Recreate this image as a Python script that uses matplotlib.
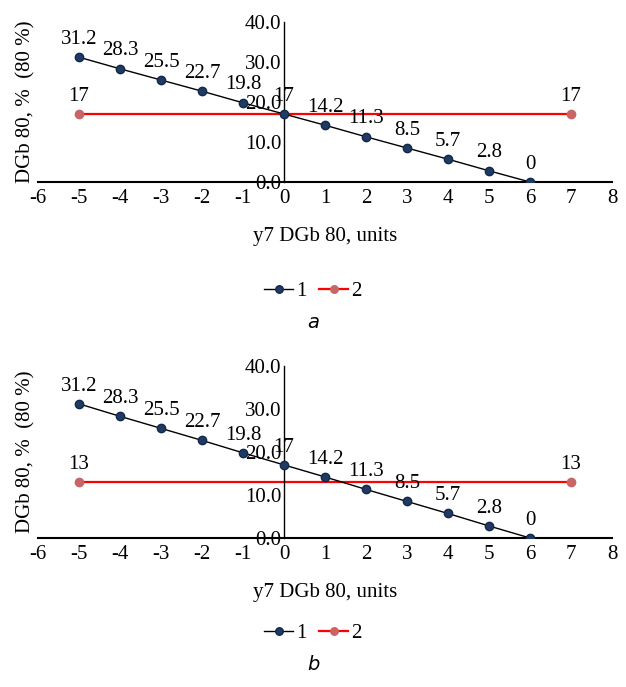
import matplotlib.pyplot as plt

plt.rcParams["font.family"] = ["Liberation Serif", "DejaVu Serif"]

# data
x1 = [-5, -4, -3, -2, -1, 0, 1, 2, 3, 4, 5, 6]
y1 = [31.2, 28.3, 25.5, 22.7, 19.8, 17, 14.2, 11.3, 8.5, 5.7, 2.8, 0]
lbl1 = ["31.2", "28.3", "25.5", "22.7", "19.8", "17", "14.2", "11.3", "8.5", "5.7", "2.8", "0"]
x2 = [-5, 7]
y2_a = [17, 17]
y2_b = [13, 13]
xticks = list(range(-6, 9))
yticks = [0, 10, 20, 30, 40]

W, H = 626, 687
FS = 15
fig = plt.figure(figsize=(W / 100, H / 100), dpi=100)

panels = [
    # (top px, bottom px, red series, caption, legend y px, caption y px)
    (22, 182, y2_a, "a", 291, 323),
    (366, 538, y2_b, "b", 633, 665),
]

for top, bot, y2, cap, leg_y, cap_y in panels:
    ax = fig.add_axes([38 / W, 1 - bot / H, (612 - 38) / W, (bot - top) / H])
    ax.set_xlim(-6, 8)
    ax.set_ylim(0, 40)

    ax.plot(x1, y1, color="black", lw=1, marker="o", ms=6,
            mfc="#1f3b63", mec="#12284a", label="1", zorder=3)
    ax.plot(x2, y2, color="red", lw=1.6, marker="o", ms=6,
            mfc="#c96565", mec="#c96565", label="2", zorder=2)

    for x, y, t in zip(x1, y1, lbl1):
        ax.annotate(t, (x, y), xytext=(0, 6), textcoords="offset points",
                    ha="center", va="bottom", fontsize=FS)
    for x, y in zip(x2, y2):
        ax.annotate(f"{y:g}", (x, y), xytext=(0, 6), textcoords="offset points",
                    ha="center", va="bottom", fontsize=FS)

    for s in ["top", "right"]:
        ax.spines[s].set_visible(False)
    ax.spines["left"].set_position(("data", 0))
    ax.spines["left"].set_linewidth(1)
    ax.spines["bottom"].set_linewidth(1.5)

    ax.set_xticks(xticks)
    ax.set_xticklabels([str(v) for v in xticks])
    ax.set_yticks(yticks)
    ax.set_yticklabels([f"{v:.1f}" for v in yticks])
    ax.tick_params(length=0, labelsize=FS)
    ax.tick_params(axis="x", pad=5)
    ax.tick_params(axis="y", pad=2)

    ax.set_xlabel("y7 DGb 80, units", fontsize=FS, labelpad=14)
    ax.set_ylabel("DGb 80, %  (80 %)", fontsize=FS)
    ax.yaxis.set_label_coords(-0.005, 0.5)

    ax.legend(loc="center", bbox_to_anchor=(313 / W, 1 - leg_y / H),
              bbox_transform=fig.transFigure, ncol=2, frameon=False,
              fontsize=FS, handlelength=1.4, handletextpad=0.15,
              columnspacing=0.6, markerscale=0.9)

    fig.text(313 / W, 1 - cap_y / H, cap, ha="center", va="center",
             fontsize=14, style="italic", family="DejaVu Sans")

fig.savefig("out.png", dpi=100)
